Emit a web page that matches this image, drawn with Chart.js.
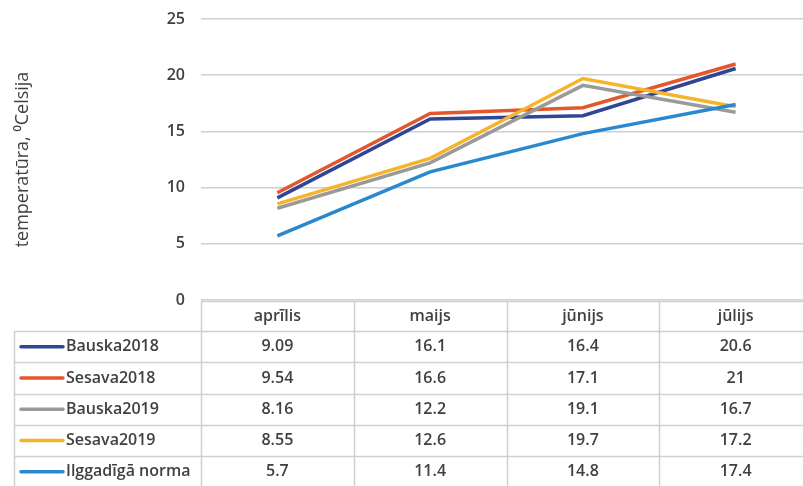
<!DOCTYPE html>
<html>
<head>
<meta charset="utf-8">
<script src="https://cdn.jsdelivr.net/npm/chart.js@4"></script>
<style>
  html, body { margin: 0; padding: 0; background: #fff; overflow: hidden; }
  #wrap { width: 815px; height: 486px; }
</style>
</head>
<body>
<div id="wrap"><canvas id="tempChart" width="815" height="486"></canvas></div>
<script>
const months = ["aprīlis", "maijs", "jūnijs", "jūlijs"];
const seriesNames = ["Bauska2018", "Sesava2018", "Bauska2019", "Sesava2019", "Ilggadīgā norma"];
const bauska2018 = [9.09, 16.1, 16.4, 20.6];
const sesava2018 = [9.54, 16.6, 17.1, 21];
const bauska2019 = [8.16, 12.2, 19.1, 16.7];
const sesava2019 = [8.55, 12.6, 19.7, 17.2];
const norma = [5.7, 11.4, 14.8, 17.4];
const seriesColors = ["#2f4596", "#e2572b", "#9a9a9a", "#f6b42a", "#2a88cf"];
const yTicks = [0, 5, 10, 15, 20, 25];

const fontFamily = "'Open Sans', 'Liberation Sans', sans-serif";
const textColor = "#404040";
const lineColor = "#d0d0d0";

const allValues = [bauska2018, sesava2018, bauska2019, sesava2019, norma];

// data table under the plot, aligned with the x scale
const dataTable = {
    id: "dataTable",
    afterDraw(chart) {
        const ctx = chart.ctx;
        const x = chart.scales.x;
        const area = chart.chartArea;
        const top = area.bottom + 1;
        const headH = 30;
        const rowH = 31.3;
        const leftEdge = 14;
        const step = x.getPixelForValue(1) - x.getPixelForValue(0);
        const right = area.right;

        ctx.save();
        ctx.strokeStyle = lineColor;
        ctx.lineWidth = 1.5;
        const rowsBottom = top + headH + rowH * seriesNames.length;

        ctx.beginPath();
        ctx.moveTo(area.left, top + 0.5);
        ctx.lineTo(right, top + 0.5);
        for (let r = 0; r <= seriesNames.length; r++) {
            const y = Math.round(top + headH + rowH * r) + 0.5;
            ctx.moveTo(leftEdge, y);
            ctx.lineTo(right, y);
        }
        ctx.moveTo(leftEdge + 0.5, top + headH);
        ctx.lineTo(leftEdge + 0.5, rowsBottom);
        for (let c = 0; c <= months.length; c++) {
            const xx = Math.round(area.left + step * c) + 0.5;
            ctx.moveTo(xx, top);
            ctx.lineTo(xx, rowsBottom);
        }
        ctx.stroke();

        ctx.fillStyle = textColor;
        ctx.font = "600 16px " + fontFamily;
        ctx.textAlign = "center";
        ctx.textBaseline = "middle";
        months.forEach((m, i) => {
            ctx.fillText(m, x.getPixelForValue(i), top + headH / 2);
        });

        seriesNames.forEach((name, r) => {
            const cy = top + headH + rowH * r + rowH / 2;
            ctx.strokeStyle = seriesColors[r];
            ctx.lineWidth = 3.5;
            ctx.lineCap = "round";
            ctx.beginPath();
            ctx.moveTo(21, cy);
            ctx.lineTo(63, cy);
            ctx.stroke();
            ctx.fillStyle = textColor;
            ctx.textAlign = "left";
            ctx.fillText(name, 66, cy);
            ctx.textAlign = "center";
            allValues[r].forEach((v, i) => {
                ctx.fillText(String(v), x.getPixelForValue(i), cy);
            });
        });
        ctx.restore();
    },
};

const datasets = seriesNames.map((name, i) => ({
    label: name,
    data: allValues[i],
    borderColor: seriesColors[i],
    backgroundColor: seriesColors[i],
    borderWidth: 3.5,
    pointRadius: 0,
    tension: 0,
    order: seriesNames.length - i,
}));

new Chart(document.getElementById("tempChart"), {
    type: "line",
    data: { labels: months, datasets: datasets },
    options: {
        responsive: false,
        animation: false,
        layout: { padding: { left: 12, right: 3, top: 19, bottom: 186 } },
        plugins: { legend: { display: false }, tooltip: { enabled: false } },
        scales: {
            x: {
                display: false,
                offset: true,
            },
            y: {
                min: 0,
                max: 25,
                afterBuildTicks: (scale) => {
                    scale.ticks = yTicks.map((v) => ({ value: v }));
                },
                afterFit: (scale) => {
                    scale.width = 189;
                    scale.paddingTop = 0;
                    scale.paddingBottom = 0;
                },
                border: { display: false },
                grid: { color: lineColor, lineWidth: 1.5, drawTicks: false },
                ticks: {
                    padding: 16,
                    color: textColor,
                    font: { family: fontFamily, size: 16, weight: "600" },
                },
                title: {
                    display: true,
                    text: "temperatūra, ⁰Celsija",
                    color: textColor,
                    padding: 0,
                    font: { family: fontFamily, size: 18 },
                },
            },
        },
    },
    plugins: [dataTable],
});
</script>
</body>
</html>
